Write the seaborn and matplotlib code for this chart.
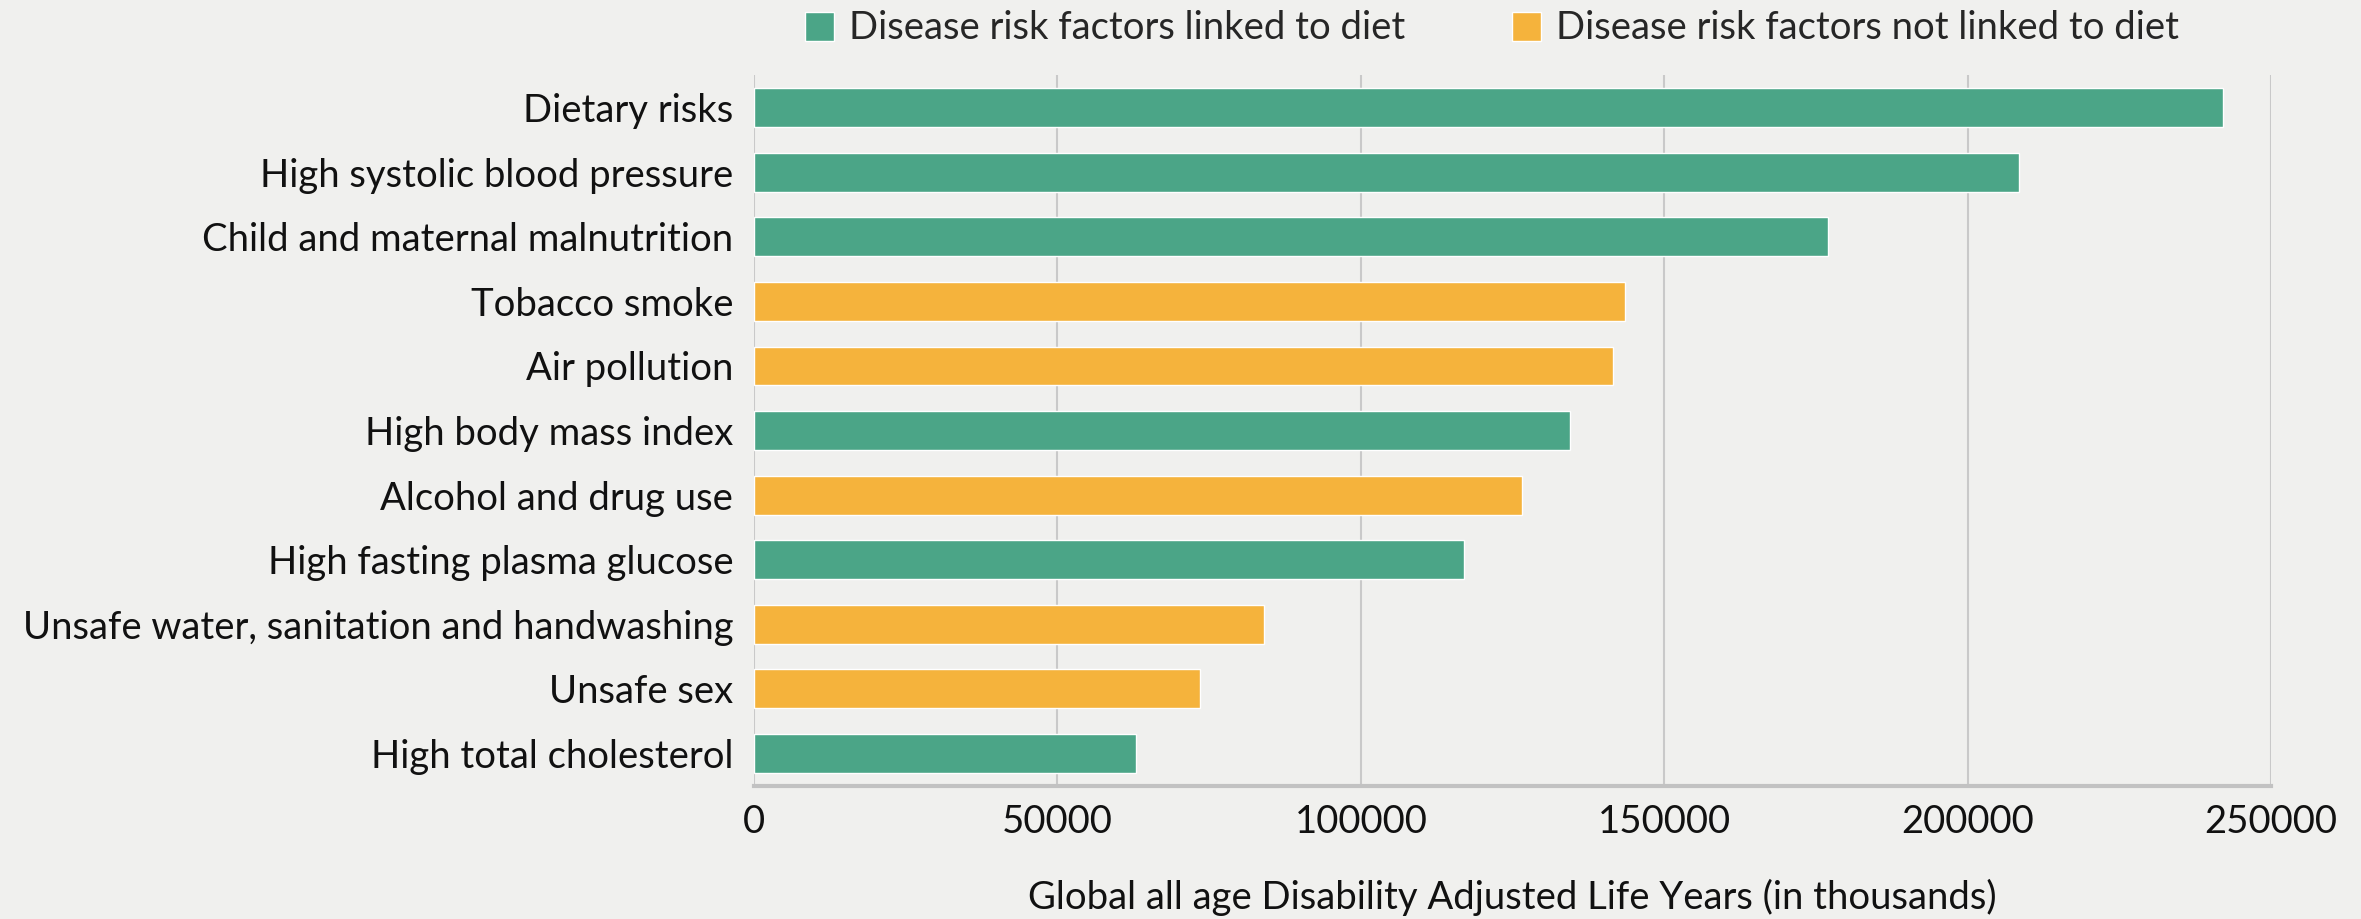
import matplotlib
matplotlib.use("Agg")
import matplotlib.pyplot as plt
import pandas as pd
import seaborn as sns

# ── Data ─────────────────────────────────────────────────────────────────────
FACTORS = [
    "Dietary risks",
    "High systolic blood pressure",
    "Child and maternal malnutrition",
    "Tobacco smoke",
    "Air pollution",
    "High body mass index",
    "Alcohol and drug use",
    "High fasting plasma glucose",
    "Unsafe water, sanitation and handwashing",
    "Unsafe sex",
    "High total cholesterol",
]
DALYS = [242000, 208500, 177000, 143600, 141600, 134400,
         126500, 117000, 84000, 73500, 63000]
LINKED = "Disease risk factors linked to diet"
NOT_LINKED = "Disease risk factors not linked to diet"
GROUP = [LINKED, LINKED, LINKED, NOT_LINKED, NOT_LINKED, LINKED,
         NOT_LINKED, LINKED, NOT_LINKED, NOT_LINKED, LINKED]
X_TICKS = [0, 50000, 100000, 150000, 200000, 250000]

# ── Style ────────────────────────────────────────────────────────────────────
BG = "#f0f0ee"
PALETTE = {LINKED: "#4ba587", NOT_LINKED: "#f5b33c"}
FS = 27.5

sns.set_theme(style="white")
plt.rcParams["font.family"] = ["Lato", "DejaVu Sans"]

df = pd.DataFrame({"factor": FACTORS, "dalys": DALYS, "group": GROUP})

fig = plt.figure(figsize=(23.61, 9.19), dpi=100, facecolor=BG)
ax = fig.add_axes([0.3194, 0.145, 0.6425, 0.773])
ax.set_facecolor(BG)

sns.barplot(
    data=df, x="dalys", y="factor", hue="group", palette=PALETTE,
    order=FACTORS, hue_order=[LINKED, NOT_LINKED], dodge=False,
    orient="h", width=0.6, saturation=1, ax=ax,
)

ax.set_xlim(0, 250000)
ax.set_xticks(X_TICKS)
ax.set_xticklabels([str(t) for t in X_TICKS])
ax.grid(True, axis="x", color="#c9c9c9", lw=1.5)
ax.set_axisbelow(True)
for side in ["top", "right", "left"]:
    ax.spines[side].set_visible(False)
ax.spines["bottom"].set_color("#c2c2c2")
ax.spines["bottom"].set_linewidth(3)

ax.tick_params(axis="both", length=0, labelsize=FS, colors="#111111")
ax.tick_params(axis="x", pad=13)
ax.tick_params(axis="y", pad=15)
ax.set_ylabel("")
ax.set_xlabel("Global all age Disability Adjusted Life Years (in thousands)",
              fontsize=FS, color="#111111", labelpad=28)

sns.move_legend(
    ax, "center", bbox_to_anchor=(0.632, 0.969), bbox_transform=fig.transFigure,
    ncol=2, frameon=False, title=None, fontsize=FS,
    handlelength=0.75, handleheight=0.8, handletextpad=0.4, columnspacing=2.8,
)

fig.savefig("out.png", dpi=100, facecolor=BG)
